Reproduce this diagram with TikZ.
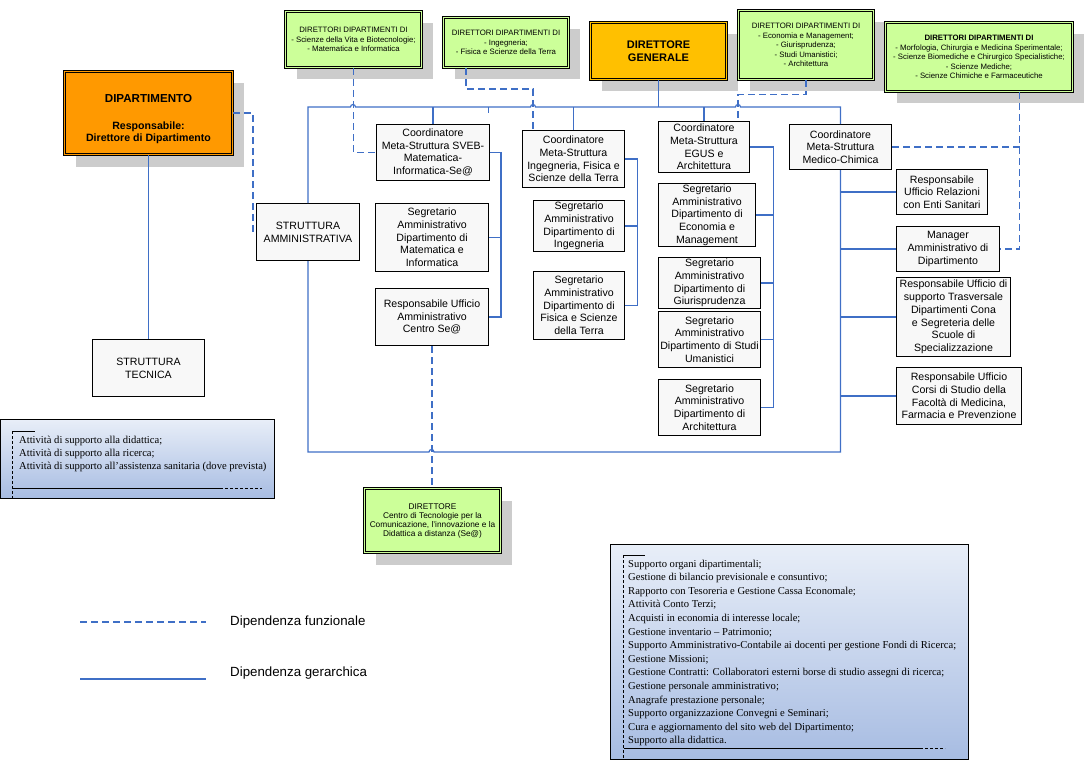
\documentclass[tikz,border=0pt]{standalone}
\usepackage{fontspec}
\setmainfont{Liberation Sans}
\newfontfamily\notefont{Liberation Serif}
\usepackage{tikz}
\usetikzlibrary{shadows}
\definecolor{deporange}{HTML}{FF9900}
\definecolor{dggold}{HTML}{FFC000}
\definecolor{dirgreen}{HTML}{CCFF99}
\definecolor{boxgray}{HTML}{F8F8F8}
\definecolor{linkblue}{HTML}{3F6FC6}
\definecolor{shadowgray}{HTML}{CCCCCC}
\definecolor{notetop}{HTML}{E8EEF8}
\definecolor{notebottom}{HTML}{A7BCE2}
\tikzset{wh/.style 2 args={minimum width=#1pt, minimum height=#2pt, anchor=north west}}
\tikzset{unita/.style={draw, line width=1pt, fill=boxgray, align=center, inner sep=1pt,
    font={\fontsize{10.6}{12.7}\selectfont}}}
\tikzset{doppio/.style={draw, line width=1pt, double=#1, double distance=1.4pt, fill=#1,
    align=center, inner sep=1pt,
    drop shadow={shadow xshift=11pt, shadow yshift=-12pt, fill=shadowgray, opacity=1}}}
\tikzset{direttori/.style={doppio=dirgreen, font={\fontsize{7.8}{9.6}\selectfont}}}
\tikzset{gerarchica/.style={draw=linkblue, line width=1.2pt}}
\tikzset{funzionale/.style={draw=linkblue, line width=1.2pt, dash pattern=on 7pt off 4pt}}
\tikzset{nota/.style={draw, line width=0.8pt, top color=notetop, bottom color=notebottom}}
\tikzset{testonota/.style={align=left, inner sep=0pt, anchor=west,
    font={\notefont\fontsize{10.6}{13.6}\selectfont}}}
\tikzset{legenda/.style={anchor=west, inner sep=0pt, font={\fontsize{13.3}{15}\selectfont}}}

\begin{document}
\begin{tikzpicture}[x=1pt, y=-1pt]
    \useasboundingbox (0,0) rectangle (1085,760);
    \coordinate (bus) at (0,107);
    \coordinate (base) at (0,452);

    % Direzione
    \node[doppio=deporange, wh={168}{83}, font={\fontsize{10.6}{11.2}\selectfont\bfseries}] (dip) at (64,71)
        {\rule{0pt}{20pt}{\fontsize{11.6}{12}\selectfont DIPARTIMENTO}\\[16pt]Responsabile:\\Direttore di Dipartimento};
    \node[doppio=dggold, wh={136}{57}, font={\fontsize{11}{12.5}\selectfont\bfseries}] (dg) at (590,22) {DIRETTORE\\GENERALE};

    % Direttori di dipartimento
    \node[direttori, wh={136}{56}] (dsveb) at (285,11)
        {DIRETTORI DIPARTIMENTI DI\\- Scienze della Vita e Biotecnologie;\\- Matematica e Informatica};
    \node[direttori, wh={125}{50}] (ding) at (443,17)
        {DIRETTORI DIPARTIMENTI DI\\- Ingegneria;\\- Fisica e Scienze della Terra};
    \node[direttori, wh={135}{69}] (deco) at (738,10)
        {DIRETTORI DIPARTIMENTI DI\\- Economia e Management;\\- Giurisprudenza;\\- Studi Umanistici;\\- Architettura};
    \node[direttori, wh={187}{69}] (dmed) at (885,22)
        {\textbf{DIRETTORI DIPARTIMENTI DI}\\-  Morfologia, Chirurgia e Medicina Sperimentale;\\- Scienze Biomediche e Chirurgico Specialistiche;\\- Scienze Mediche;\\- Scienze Chimiche e Farmaceutiche};
    \node[doppio=dirgreen, wh={136}{64}, font={\fontsize{8.3}{9}\selectfont}] (dsea) at (364,488)
        {DIRETTORE\\Centro di Tecnologie per la\\Comunicazione, l'innovazione e la\\Didattica a distanza  (Se@)};

    % Strutture
    \node[unita, wh={103}{57}] (samm) at (256,203) {STRUTTURA\\AMMINISTRATIVA};
    \node[unita, wh={112}{57}] (stec) at (92,339) {STRUTTURA\\TECNICA};

    % Coordinatori
    \node[unita, wh={113}{56}] (csveb) at (376,124) {Coordinatore\\Meta-Struttura SVEB-\\Matematica-\\Informatica-Se@};
    \node[unita, wh={102}{57}] (cing) at (522,130) {Coordinatore\\Meta-Struttura\\Ingegneria, Fisica e\\Scienze della Terra};
    \node[unita, wh={91}{51}] (cegus) at (658,121) {Coordinatore\\Meta-Struttura\\EGUS e\\Architettura};
    \node[unita, wh={102}{45}] (cmed) at (789,124) {Coordinatore\\Meta-Struttura\\Medico-Chimica};

    % Segretari e uffici
    \node[unita, wh={113}{68}] (smat) at (375,203) {Segretario\\Amministrativo\\Dipartimento di\\Matematica e\\Informatica};
    \node[unita, wh={113}{57}] (rsea) at (375,288) {Responsabile Ufficio\\Amministrativo\\Centro Se@};
    \node[unita, wh={91}{51}] (sing) at (533,200) {Segretario\\Amministrativo\\Dipartimento di\\Ingegneria};
    \node[unita, wh={91}{68}] (sfis) at (533,271) {Segretario\\Amministrativo\\Dipartimento di\\Fisica e Scienze\\della Terra};
    \node[unita, wh={97}{63}] (seco) at (658,183) {Segretario\\Amministrativo\\Dipartimento di\\Economia e\\Management};
    \node[unita, wh={102}{51}] (sgiu) at (658,257) {Segretario\\Amministrativo\\Dipartimento di\\Giurisprudenza};
    \node[unita, wh={102}{56}] (sstu) at (658,311) {Segretario\\Amministrativo\\Dipartimento di Studi\\Umanistici};
    \node[unita, wh={102}{56}] (sarc) at (658,379) {Segretario\\Amministrativo\\Dipartimento di\\Architettura};
    \node[unita, wh={91}{45}] (rrel) at (896,169) {Responsabile\\Ufficio Relazioni\\con Enti Sanitari};
    \node[unita, wh={103}{45}] (mgr) at (896,226) {Manager\\Amministrativo di\\Dipartimento};
    \node[unita, wh={114}{79}] (rsup) at (896,277) {Responsabile Ufficio di\\supporto Trasversale\\Dipartimenti Cona\\e Segreteria delle\\Scuole di\\Specializzazione};
    \node[unita, wh={125}{57}] (rcor) at (896,367) {Responsabile Ufficio\\Corsi di Studio della\\Facoltà di Medicina,\\Farmacia e Prevenzione};

    % Dipendenza gerarchica
    \draw[gerarchica] (dip.south) -- (stec.north);
    \draw[gerarchica] (samm.north) |- (350.5,107) arc[start angle=180, end angle=360, radius=2.5]
        -- (530.5,107) arc[start angle=180, end angle=360, radius=2.5]
        -- (735.5,107) arc[start angle=180, end angle=360, radius=2.5]
        -- (cmed.north |- bus) -- (cmed.north);
    \draw[gerarchica] (samm.south) |- (429,452) arc[start angle=180, end angle=360, radius=2.5]
        -- (cmed.south |- base) -- (cmed.south);
    \draw[gerarchica] (dg.south) -- (dg.south |- bus);
    \draw[gerarchica] (csveb.north) -- (csveb.north |- bus);
    \draw[gerarchica] (cing.north) -- (cing.north |- bus);
    \draw[gerarchica] (cegus.north) -- (cegus.north |- bus);
    \draw[gerarchica] (488.5,107) -- ++(0,6);

    \draw[gerarchica] (csveb.east) -- ++(11,0) coordinate (vsveb) |- (rsea.east);
    \draw[gerarchica] (smat.east) -- (smat.east -| vsveb);
    \draw[gerarchica] (cing.east) -- ++(12.5,0) coordinate (ving) |- (sfis.east);
    \draw[gerarchica] (sing.east) -- (sing.east -| ving);
    \draw[gerarchica] (cegus.east) -- ++(23.5,0) coordinate (vegus) |- (sarc.east);
    \draw[gerarchica] (seco.east) -- (seco.east -| vegus);
    \draw[gerarchica] (sgiu.east) -- (sgiu.east -| vegus);
    \draw[gerarchica] (sstu.east) -- (sstu.east -| vegus);
    \draw[gerarchica] (rrel.west) -- (rrel.west -| cmed.south);
    \draw[gerarchica] (mgr.west) -- (mgr.west -| cmed.south);
    \draw[gerarchica] (rsup.west) -- (rsup.west -| cmed.south);
    \draw[gerarchica] (rcor.west) -- (rcor.west -| cmed.south);

    % Dipendenza funzionale
    \draw[funzionale] (dip.east) -- ++(20,0) |- (samm.west);
    \draw[funzionale] (dsveb.south) |- (csveb.west);
    \draw[funzionale] ([xshift=-40pt]ding.south) -- ++(0,21) -| ([xshift=11pt]cing.north west);
    \draw[funzionale] (deco.south) -- ++(0,14.5) -| ([xshift=80pt]cegus.north west);
    \draw[funzionale] ([xshift=40.5pt]dmed.south) coordinate (fmed) |- (mgr.east);
    \draw[funzionale] (cmed.east) -- (cmed.east -| fmed);
    \draw[funzionale] (rsea.south) -- (rsea.south |- dsea.north);

    % Note
    \node[nota, wh={274}{79}] (nsx) at (0,419) {};
    \draw[line width=0.6pt] (12.5,431) -- (34.5,431);
    \draw[line width=0.6pt, dash pattern=on 3pt off 2pt] (12.5,431) -- (12.5,498);
    \draw[line width=0.6pt] (12.5,488) -- (220,488);
    \draw[line width=0.6pt, dash pattern=on 3pt off 2pt] (220,488) -- (262,488);
    \node[testonota, font={\notefont\fontsize{10.6}{12.6}\selectfont}] (tsx) at (19,454)
        {Attività di supporto alla didattica;\\Attività di supporto alla  ricerca;\\Attività di supporto all’assistenza sanitaria (dove prevista)};

    \node[nota, wh={358}{215}] (ndx) at (610,544) {};
    \draw[line width=0.6pt] (623.5,555) -- (644.5,555);
    \draw[line width=0.6pt, dash pattern=on 3pt off 2pt] (623.5,555) -- (623.5,759);
    \draw[line width=0.6pt] (623.5,748) -- (920,748);
    \draw[line width=0.6pt, dash pattern=on 3pt off 2pt] (920,748) -- (945,748);
    \node[testonota] (tdx) at (628,653)
        {Supporto organi dipartimentali;\\
         Gestione di bilancio previsionale e consuntivo;\\
         Rapporto con Tesoreria e Gestione Cassa Economale;\\
         Attività Conto Terzi;\\
         Acquisti in economia di interesse locale;\\
         Gestione inventario – Patrimonio;\\
         Supporto Amministrativo-Contabile ai docenti per gestione Fondi di Ricerca;\\
         Gestione Missioni;\\
         Gestione Contratti: Collaboratori esterni borse di studio assegni di ricerca;\\
         Gestione personale amministrativo;\\
         Anagrafe prestazione personale;\\
         Supporto organizzazione Convegni e Seminari;\\
         Cura e aggiornamento del sito web del Dipartimento;\\
         Supporto alla didattica.};

    % Legenda
    \coordinate (lfa) at (80,622);
    \coordinate (lga) at (80,679);
    \draw[funzionale] (lfa) -- ++(126,0);
    \draw[gerarchica] (lga) -- ++(126,0);
    \node[legenda] (lfun) at (230,622) {Dipendenza funzionale};
    \node[legenda] (lger) at (230,673) {Dipendenza gerarchica};
\end{tikzpicture}
\end{document}
